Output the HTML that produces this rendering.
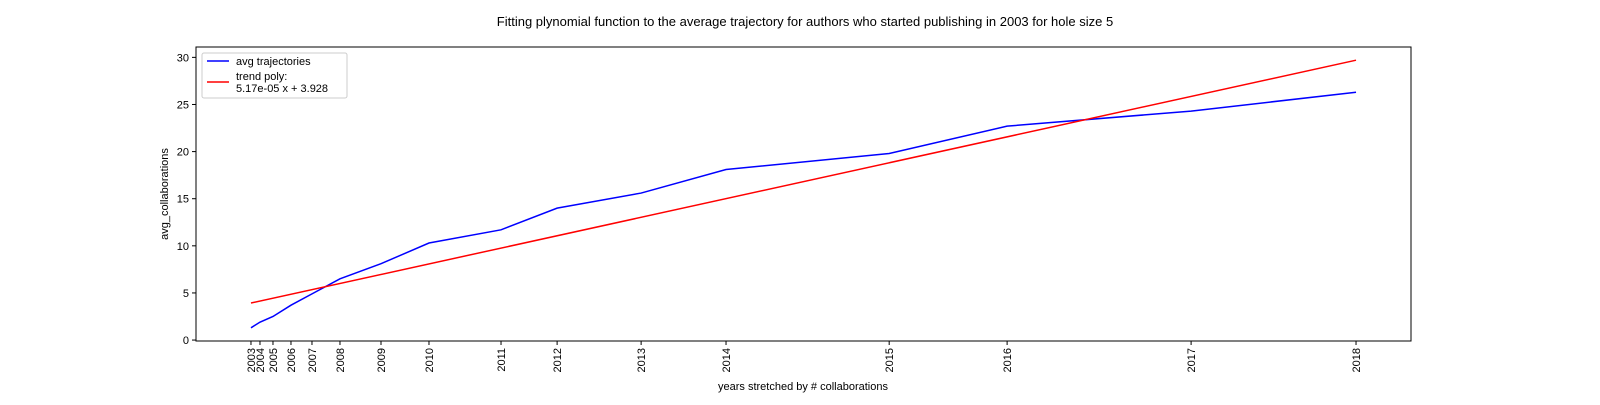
<!DOCTYPE html>
<html><head><meta charset="utf-8"><style>
body{margin:0;background:#fff;}
svg{font-family:"Liberation Sans","DejaVu Sans",sans-serif;}
</style></head><body>
<svg id="chart" width="1600" height="400">
<text x="805" y="26" font-size="13" text-anchor="middle">Fitting plynomial function to the average trajectory for authors who started publishing in 2003 for hole size 5</text>
<rect x="196" y="47" width="1215" height="294" fill="none" stroke="#000" stroke-width="1"/>
<text x="803" y="390" font-size="11" text-anchor="middle">years stretched by # collaborations</text>
<text transform="translate(168,194) rotate(-90)" font-size="11" text-anchor="middle">avg_collaborations</text>
<g id="marks"></g>
<g>
<rect x="202" y="53" width="145" height="45" fill="#fff" stroke="#ccc" rx="2"/>
<line x1="207" y1="61" x2="229" y2="61" stroke="#0000ff" stroke-width="1.5"/>
<text x="236" y="65" font-size="11">avg trajectories</text>
<line x1="207" y1="82" x2="229" y2="82" stroke="#ff0000" stroke-width="1.5"/>
<text x="236" y="80" font-size="11">trend poly:</text>
<text x="236" y="92" font-size="11">5.17e-05 x + 3.928</text>
</g>
</svg>
<script>
const years=["2003","2004","2005","2006","2007","2008","2009","2010","2011","2012","2013","2014","2015","2016","2017","2018"];
const xVals=[0,4060,9925,18045,27520,40150,58650,80300,112800,138100,176000,214300,287900,341100,424100,498500];
const avgVals=[1.3,1.9,2.5,3.7,4.9,6.5,8.1,10.3,11.7,14.0,15.6,18.1,19.8,22.7,24.3,26.3];
const trendSlope=5.17e-05;
const trendIntercept=3.928;
const yTicks=[0,5,10,15,20,25,30];

const svgNS="http://www.w3.org/2000/svg";
const L=196,R=1411,T=47,B=341;
const xMin=-24800,xMax=523300,yMin=-0.1,yMax=31.1;
const sx=v=>L+(v-xMin)/(xMax-xMin)*(R-L);
const sy=v=>B-(v-yMin)/(yMax-yMin)*(B-T);
const g=document.getElementById('marks');
function mk(tag,attrs){const e=document.createElementNS(svgNS,tag);for(const k in attrs)e.setAttribute(k,attrs[k]);g.appendChild(e);return e;}

yTicks.forEach(t=>{
  const y=sy(t);
  const tk=mk('line',{x1:L-4,x2:L,y1:y,y2:y,stroke:'#000'});
  
  
  const tx=mk('text',{x:L-7,y:y+4,'font-size':11,'text-anchor':'end'});
  tx.textContent=t;
  
  
});
xVals.forEach((v,i)=>{
  const x=sx(v);
  const tk=mk('line',{x1:x,x2:x,y1:B,y2:B+4,stroke:'#000'});
  
  
  const tx=mk('text',{transform:`translate(${x+4},${B+7}) rotate(-90)`,'font-size':11,'text-anchor':'end'});
  tx.textContent=years[i];
  
  
});
const pts=xVals.map((v,i)=>sx(v)+','+sy(avgVals[i])).join(' ');
const avg=mk('polyline',{points:pts,fill:'none',stroke:'#0000ff','stroke-width':1.5});


const x0=xVals[0],x1=xVals[xVals.length-1];
const tr=mk('line',{x1:sx(x0),y1:sy(trendSlope*x0+trendIntercept),x2:sx(x1),y2:sy(trendSlope*x1+trendIntercept),stroke:'#ff0000','stroke-width':1.5});


</script>
</body></html>
